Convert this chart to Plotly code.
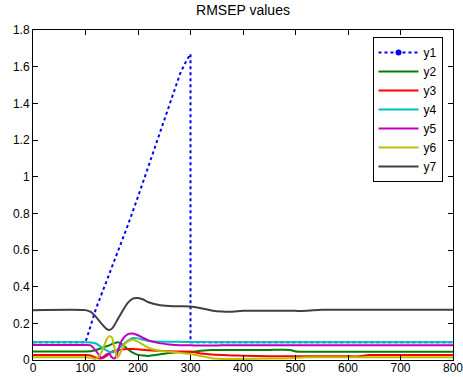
import plotly.graph_objects as go

# ---- data ----
x_common = [0, 100, 110, 120, 130, 140, 145, 150, 155, 160, 165, 170, 180, 190, 200, 210, 220, 240,
            260, 280, 300, 320, 340, 360, 380, 400, 450, 490, 500, 520, 550, 600, 620, 640, 700, 800]

y2 = [0.047, 0.047, 0.048, 0.055, 0.065, 0.075, 0.080, 0.087, 0.093, 0.096, 0.095, 0.085, 0.060, 0.040,
      0.028, 0.024, 0.022, 0.030, 0.038, 0.043, 0.045, 0.050, 0.054, 0.055, 0.055, 0.055, 0.055, 0.055,
      0.046, 0.045, 0.045, 0.045, 0.045, 0.045, 0.045, 0.045]
y3 = [0.027, 0.027, 0.025, 0.012, 0.008, 0.022, 0.035, 0.045, 0.050, 0.052, 0.055, 0.058, 0.060, 0.060,
      0.058, 0.056, 0.053, 0.050, 0.048, 0.046, 0.045, 0.036, 0.030, 0.027, 0.025, 0.023, 0.021, 0.020,
      0.020, 0.020, 0.020, 0.020, 0.020, 0.027, 0.027, 0.027]
y4 = [0.097, 0.097, 0.096, 0.090, 0.070, 0.052, 0.045, 0.042, 0.045, 0.055, 0.068, 0.080, 0.105, 0.120,
      0.118, 0.110, 0.104, 0.100, 0.099, 0.099, 0.098, 0.098, 0.097, 0.097, 0.097, 0.097, 0.097, 0.097,
      0.097, 0.097, 0.097, 0.097, 0.097, 0.097, 0.097, 0.097]
y5 = [0.082, 0.082, 0.080, 0.050, 0.012, 0.030, 0.035, 0.015, 0.008, 0.030, 0.080, 0.110, 0.140, 0.145,
      0.135, 0.120, 0.107, 0.092, 0.085, 0.081, 0.080, 0.079, 0.079, 0.080, 0.080, 0.080, 0.080, 0.080,
      0.080, 0.080, 0.080, 0.080, 0.080, 0.080, 0.080, 0.080]
y6 = [0.015, 0.015, 0.012, 0.006, 0.040, 0.110, 0.130, 0.125, 0.070, 0.012, 0.030, 0.065, 0.100, 0.110,
      0.100, 0.082, 0.067, 0.050, 0.045, 0.040, 0.033, 0.022, 0.010, 0.006, 0.005, 0.006, 0.008, 0.010,
      0.012, 0.015, 0.015, 0.015, 0.015, 0.015, 0.015, 0.015]
y7 = [0.272, 0.272, 0.262, 0.235, 0.200, 0.170, 0.164, 0.170, 0.190, 0.215, 0.240, 0.265, 0.310, 0.335,
      0.338, 0.330, 0.315, 0.300, 0.295, 0.293, 0.292, 0.282, 0.270, 0.264, 0.263, 0.268, 0.268, 0.268,
      0.268, 0.268, 0.274, 0.274, 0.274, 0.274, 0.274, 0.274]

x1 = [0, 100, 120, 140, 160, 180, 200, 220, 240, 260, 280, 290, 300, 300, 800]
y1 = [0.097, 0.097, 0.28, 0.43, 0.575, 0.73, 0.89, 1.06, 1.23, 1.40, 1.56, 1.62, 1.67, 0.097, 0.097]

names = ["y2", "y3", "y4", "y5", "y6", "y7"]
colors = ["rgb(0,128,0)", "rgb(255,0,0)", "rgb(0,191,191)", "rgb(191,0,191)", "rgb(191,191,0)", "rgb(64,64,64)"]
series = [y2, y3, y4, y5, y6, y7]

x_ticks = [0, 100, 200, 300, 400, 500, 600, 700, 800]
y_ticks = [0, 0.2, 0.4, 0.6, 0.8, 1, 1.2, 1.4, 1.6, 1.8]

FONT = "Liberation Sans, Arial, sans-serif"

fig = go.Figure()
# y1: dotted line (legend entry shows line + dot marker)
fig.add_trace(go.Scatter(x=x1, y=y1, mode="lines", name="y1", showlegend=False,
                         line=dict(color="rgb(0,0,255)", width=2, dash="dot")))
fig.add_trace(go.Scatter(x=[None], y=[None], mode="lines+markers", name="y1",
                         line=dict(color="rgb(0,0,255)", width=2, dash="dot"),
                         marker=dict(color="rgb(0,0,255)", size=6)))
for n, c, s in zip(names, colors, series):
    fig.add_trace(go.Scatter(x=x_common, y=s, mode="lines", name=n,
                             line=dict(color=c, width=2, shape="spline", smoothing=0.5)))

axis_common = dict(showline=True, linecolor="black", linewidth=1, mirror="ticks",
                   ticks="inside", ticklen=5, tickcolor="black", showgrid=False, zeroline=False,
                   automargin=False, ticklabeloverflow="allow",
                   tickfont=dict(family=FONT, size=12, color="black"))

fig.update_layout(
    width=463, height=377, autosize=False,
    margin=dict(l=33, r=10, t=30, b=17, pad=0),
    paper_bgcolor="white", plot_bgcolor="white",
    title=dict(text="RMSEP values", xref="paper", x=0.5, xanchor="center",
               yref="container", y=0.985, yanchor="top",
               font=dict(family=FONT, size=14, color="black"), automargin=False),
    xaxis=dict(range=[0, 800], tickvals=x_ticks, ticklabelstandoff=-3, **axis_common),
    yaxis=dict(range=[0, 1.8], tickvals=y_ticks, **axis_common),
    legend=dict(x=0.975, y=0.979, xanchor="right", yanchor="top",
                bgcolor="white", bordercolor="black", borderwidth=1,
                font=dict(family=FONT, size=12, color="black"),
                tracegroupgap=0, itemwidth=40),
    showlegend=True,
)

# remove the browser's default body margin so the figure fills the window exactly
fig.write_html("out.html", config={"displayModeBar": False},
               post_script="document.body.style.margin='0';document.body.style.overflow='hidden';")
